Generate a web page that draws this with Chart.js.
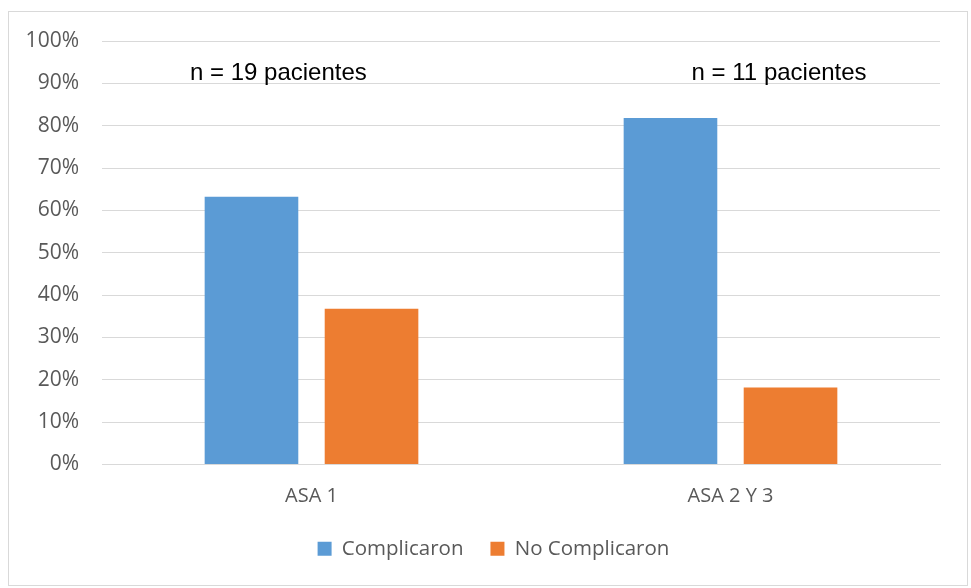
<!DOCTYPE html>
<html>
<head>
<meta charset="utf-8">
<script src="https://cdn.jsdelivr.net/npm/chart.js@4/dist/chart.umd.min.js"></script>
<style>
  html, body { margin: 0; padding: 0; background: #ffffff; }
  #wrap { position: relative; width: 971px; height: 588px; }
</style>
</head>
<body>
<div id="wrap"><canvas id="chart" width="971" height="588"></canvas></div>
<script>
// Grupos ASA y porcentaje de pacientes que complicaron / no complicaron
const categories = ['ASA 1', 'ASA 2 Y 3'];
const seriesNames = ['Complicaron', 'No Complicaron'];
const complicaron = [63.2, 81.8];     // 12/19, 9/11
const noComplicaron = [36.8, 18.2];   // 7/19, 2/11
const groupNotes = ['n = 19 pacientes', 'n = 11 pacientes'];
const yTicks = [0, 10, 20, 30, 40, 50, 60, 70, 80, 90, 100];

const GREY_TEXT = '#595959';
const GRID = '#d9d9d9';
const LABEL_FONT = "'Open Sans', sans-serif";

// Frame around the whole chart
const framePlugin = {
  id: 'frame',
  beforeDraw(chart) {
    const ctx = chart.ctx;
    ctx.save();
    ctx.fillStyle = '#ffffff';
    ctx.fillRect(0, 0, chart.width, chart.height);
    ctx.strokeStyle = '#d9d9d9';
    ctx.lineWidth = 1;
    ctx.strokeRect(8.5, 11.5, 959, 574);
    ctx.restore();
  }
};

// Center the legend under the middle of the frame rather than the canvas
const legendShift = {
  id: 'legendShift',
  afterLayout(chart) {
    if (chart.legend) chart.legend.left += 47;
  }
};

// "n = ..." notes above each group
const notesPlugin = {
  id: 'groupNotes',
  afterDatasetsDraw(chart) {
    const ctx = chart.ctx;
    const xs = chart.scales.x, ys = chart.scales.y;
    const catW = xs.width / categories.length;
    const shifts = [-0.079, 0.116];
    ctx.save();
    ctx.font = "24px 'Liberation Sans', Arial, sans-serif";
    ctx.fillStyle = '#000000';
    ctx.textAlign = 'center';
    ctx.textBaseline = 'middle';
    groupNotes.forEach((t, i) => {
      const x = xs.getPixelForValue(i) + shifts[i] * catW;
      const y = ys.getPixelForValue(92.4);
      ctx.fillText(t, x, y);
    });
    ctx.restore();
  }
};

new Chart(document.getElementById('chart'), {
  type: 'bar',
  data: {
    labels: categories,
    datasets: [
      { label: seriesNames[0], data: complicaron, backgroundColor: '#5b9bd5' },
      { label: seriesNames[1], data: noComplicaron, backgroundColor: '#ed7d31' }
    ]
  },
  options: {
    responsive: false,
    animation: false,
    devicePixelRatio: 1,
    layout: { padding: { left: 0, right: 31, top: 41, bottom: 19 } },
    datasets: { bar: { categoryPercentage: 0.573, barPercentage: 0.78 } },
    scales: {
      x: {
        grid: { display: false, drawTicks: false },
        border: { display: true, color: GRID, width: 1 },
        ticks: { color: GREY_TEXT, font: { family: LABEL_FONT, size: 20 }, padding: 20 },
        afterFit(scale) { scale.height = 47; }
      },
      y: {
        min: 0, max: 100,
        afterBuildTicks(scale) { scale.ticks = yTicks.map(v => ({ value: v })); },
        grid: { color: GRID, lineWidth: 1, drawTicks: false },
        border: { display: false },
        ticks: {
          color: GREY_TEXT,
          font: { family: LABEL_FONT, size: 21 },
          padding: 23,
          callback: v => v + '%'
        },
        afterFit(scale) { scale.width = 102; }
      }
    },
    plugins: {
      legend: {
        position: 'bottom',
        labels: {
          color: GREY_TEXT,
          font: { family: LABEL_FONT, size: 20.5 },
          boxWidth: 14,
          boxHeight: 14,
          padding: 27,
          useBorderRadius: false
        }
      },
      tooltip: { enabled: false },
      title: { display: false }
    }
  },
  plugins: [framePlugin, legendShift, notesPlugin]
});
</script>
</body>
</html>
